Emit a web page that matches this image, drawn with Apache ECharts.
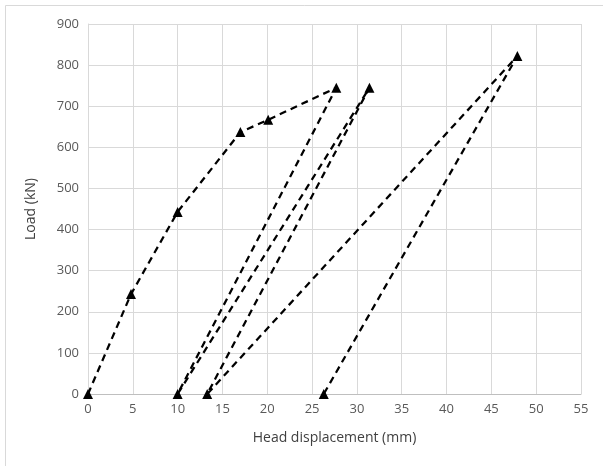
<!DOCTYPE html>
<html>
<head>
<meta charset="utf-8">
<script src="https://cdn.jsdelivr.net/npm/echarts@6/dist/echarts.min.js"></script>
<style>
  html, body { margin: 0; padding: 0; background: #fff; }
  #chart { width: 603px; height: 466px; }
</style>
</head>
<body>
<div id="chart"></div>
<script>
// load path in test order (mm, kN)
const displacement = [0, 4.8, 10, 17, 20.1, 27.7, 10, 31.4, 13.3, 47.9, 26.3]
const load = [0, 243, 443, 637, 667, 745, 0, 745, 0, 822, 0]

const xTicks = { min: 0, max: 55, step: 5 }
const yTicks = { min: 0, max: 900, step: 100 }

const labelFont = 'Open Sans, Liberation Sans, sans-serif'

const chart = echarts.init(document.getElementById('chart'))

chart.setOption({
  animation: false,
  backgroundColor: '#fff',
  grid: { left: 88, right: 22, top: 24, bottom: 72, containLabel: false },
  graphic: [
    {
      type: 'rect',
      shape: { x: 5.5, y: 5.5, width: 620, height: 480 },
      style: { fill: 'none', stroke: '#d9d9d9', lineWidth: 1 },
    },
  ],
  xAxis: {
    type: 'value',
    min: xTicks.min,
    max: xTicks.max,
    interval: xTicks.step,
    name: 'Head displacement (mm)',
    nameLocation: 'middle',
    nameGap: 37,
    nameTextStyle: { color: '#404040', fontSize: 14, fontFamily: labelFont },
    axisLine: { show: true, lineStyle: { color: '#bfbfbf' } },
    axisTick: { show: false },
    axisLabel: { color: '#595959', fontSize: 13, fontFamily: labelFont, margin: 9 },
    splitLine: { show: true, lineStyle: { color: '#d9d9d9', width: 1 } },
  },
  yAxis: {
    type: 'value',
    min: yTicks.min,
    max: yTicks.max,
    interval: yTicks.step,
    name: 'Load (kN)',
    nameLocation: 'middle',
    nameGap: 50,
    nameTextStyle: { color: '#404040', fontSize: 14, fontFamily: labelFont },
    axisLine: { show: true, lineStyle: { color: '#d9d9d9' } },
    axisTick: { show: false },
    axisLabel: { color: '#595959', fontSize: 13, fontFamily: labelFont, margin: 9 },
    splitLine: { show: true, lineStyle: { color: '#d9d9d9', width: 1 } },
  },
  series: [
    {
      type: 'line',
      data: displacement.map((x, i) => [x, load[i]]),
      symbol: 'triangle',
      symbolSize: 10,
      itemStyle: { color: '#000' },
      lineStyle: { color: '#000', width: 2.25, type: [7, 5] },
      clip: false,
    },
  ],
})
</script>
</body>
</html>
